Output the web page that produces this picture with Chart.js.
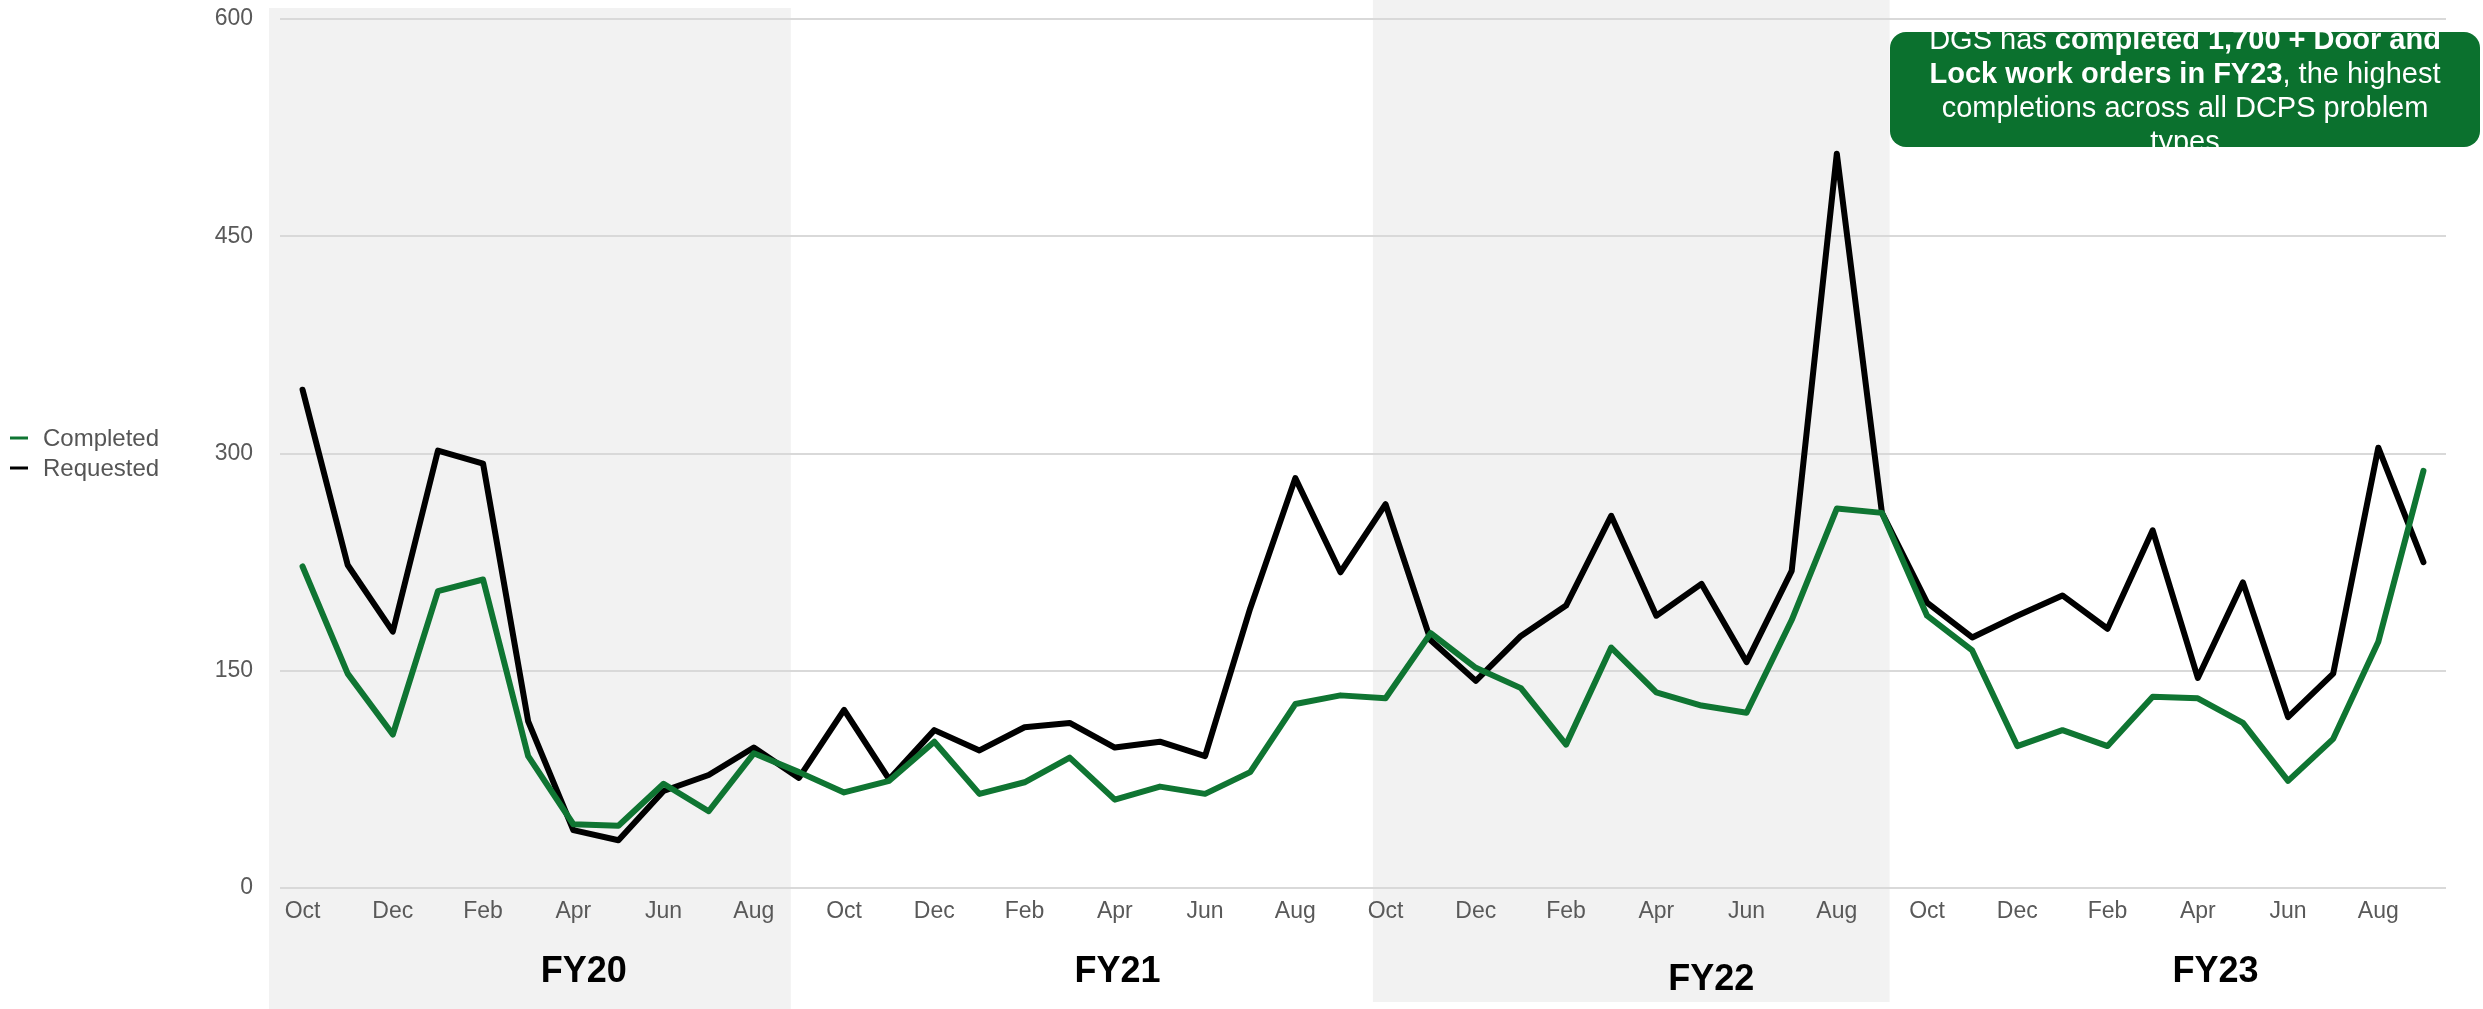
<!DOCTYPE html>
<html>
<head>
<meta charset="utf-8">
<script src="https://cdn.jsdelivr.net/npm/chart.js"></script>
<style>
  html, body { margin: 0; padding: 0; background: #fff; }
  #wrap { width: 2483px; height: 1009px; }
</style>
</head>
<body>
<div id="wrap"><canvas id="chart" width="2483" height="1009"></canvas></div>
<script>
// months Oct FY20 .. Sep FY23
var months = ['Oct', 'Nov', 'Dec', 'Jan', 'Feb', 'Mar', 'Apr', 'May', 'Jun', 'Jul', 'Aug', 'Sep'];
var labels = [].concat(months, months, months, months);

var completed = [
    222, 148, 106, 205, 213, 91, 44, 43, 72, 53, 93, 80,
    66, 74, 101, 65, 73, 90, 61, 70, 65, 80, 127, 133,
    131, 176, 152, 138, 99, 166, 135, 126, 121, 185, 262, 259,
    188, 164, 98, 109, 98, 132, 131, 114, 74, 103, 170, 288
];
var requested = [
    344, 223, 177, 302, 293, 115, 40, 33, 67, 78, 97, 76,
    123, 75, 109, 95, 111, 114, 97, 101, 91, 193, 283, 218,
    265, 171, 143, 174, 195, 257, 188, 210, 156, 219, 507, 259,
    197, 173, 188, 202, 179, 247, 145, 211, 118, 148, 304, 225
];

var yTicks = [0, 150, 300, 450, 600];

// fiscal year captions, placed at a (fractional) month index
var fyNames = ['FY20', 'FY21', 'FY22', 'FY23'];
var fyPos = [6.23, 18.06, 31.22, 42.39];

// shaded year bands, in month-index units
var bandFrom = [-0.745, 23.72];
var bandTo = [10.82, 35.17];

var GREEN = '#0f7532';
var GREY_TEXT = '#595959';
var FONT = '"Liberation Sans", Arial, sans-serif';

var bandsPlugin = {
    id: 'bands',
    beforeDraw: function (chart) {
        var ctx = chart.ctx;
        var x = chart.scales.x;
        ctx.save();
        ctx.fillStyle = '#ffffff';
        ctx.fillRect(0, 0, chart.width, chart.height);
        ctx.fillStyle = '#f2f2f2';
        var tops = [8, 0];
        var bottoms = [chart.height, chart.height - 7];
        for (var i = 0; i < bandFrom.length; i++) {
            var x1 = x.getPixelForValue(bandFrom[i]);
            var x2 = x.getPixelForValue(bandTo[i]);
            ctx.fillRect(x1, tops[i], x2 - x1, bottoms[i] - tops[i]);
        }
        ctx.restore();
    }
};

var extrasPlugin = {
    id: 'extras',
    afterDraw: function (chart) {
        var ctx = chart.ctx;
        var x = chart.scales.x;
        var area = chart.chartArea;
        ctx.save();

        // fiscal year captions
        ctx.font = 'bold 36px ' + FONT;
        ctx.fillStyle = '#000';
        ctx.textAlign = 'center';
        ctx.textBaseline = 'middle';
        fyNames.forEach(function (name, i) {
            var dy = name === 'FY22' ? 92 : 84;
            ctx.fillText(name, x.getPixelForValue(fyPos[i]), area.bottom + dy);
        });

        // legend
        var items = [
            {text: 'Completed', color: GREEN},
            {text: 'Requested', color: '#000'}
        ];
        ctx.font = '24px ' + FONT;
        ctx.textAlign = 'left';
        items.forEach(function (it, i) {
            var y = 438 + i * 30;
            ctx.strokeStyle = it.color;
            ctx.lineWidth = 3;
            ctx.beginPath();
            ctx.moveTo(10, y);
            ctx.lineTo(28, y);
            ctx.stroke();
            ctx.fillStyle = '#555';
            ctx.fillText(it.text, 43, y + 1);
        });

        // callout box
        var bx = 1890, by = 32, bw = 590, bh = 115, r = 16;
        ctx.beginPath();
        ctx.roundRect(bx, by, bw, bh, r);
        ctx.fillStyle = '#0b712e';
        ctx.fill();
        ctx.clip();

        var lines = [
            [['DGS has ', false], ['completed 1,700 + Door and', true]],
            [['Lock work orders in FY23', true], [', the highest', false]],
            [['completions across all DCPS problem', false]],
            [['types', false]]
        ];
        var cx = bx + bw / 2;
        ctx.fillStyle = '#fff';
        ctx.textBaseline = 'alphabetic';
        ctx.textAlign = 'left';
        lines.forEach(function (runs, i) {
            var total = 0;
            runs.forEach(function (run) {
                ctx.font = (run[1] ? 'bold ' : '') + '29px ' + FONT;
                total += ctx.measureText(run[0]).width;
            });
            var tx = cx - total / 2;
            var ty = by + 17 + i * 34;
            runs.forEach(function (run) {
                ctx.font = (run[1] ? 'bold ' : '') + '29px ' + FONT;
                ctx.fillText(run[0], tx, ty);
                tx += ctx.measureText(run[0]).width;
            });
        });

        ctx.restore();
    }
};

new Chart(document.getElementById('chart'), {
    type: 'line',
    data: {
        labels: labels,
        datasets: [{
            label: 'Completed',
            data: completed,
            borderColor: GREEN,
            borderWidth: 6,
            pointRadius: 0,
            borderJoinStyle: 'round',
            borderCapStyle: 'round',
            tension: 0
        }, {
            label: 'Requested',
            data: requested,
            borderColor: '#000',
            borderWidth: 6,
            pointRadius: 0,
            borderJoinStyle: 'round',
            borderCapStyle: 'round',
            tension: 0
        }]
    },
    options: {
        responsive: false,
        animation: false,
        devicePixelRatio: 1,
        layout: {
            padding: {left: 0, top: 19, right: 37, bottom: 0}
        },
        plugins: {
            legend: {display: false},
            tooltip: {enabled: false}
        },
        scales: {
            x: {
                offset: true,
                grid: {display: false, drawTicks: false},
                border: {display: false},
                ticks: {
                    autoSkip: false,
                    maxRotation: 0,
                    minRotation: 0,
                    padding: 10,
                    color: GREY_TEXT,
                    font: {family: FONT, size: 23},
                    callback: function (value, index) {
                        return index % 2 === 0 ? labels[index] : '';
                    }
                },
                afterFit: function (scale) {
                    scale.height = 121;
                    scale.paddingLeft = 0;
                    scale.paddingRight = 0;
                }
            },
            y: {
                min: 0,
                max: 600,
                grid: {color: '#d9d9d9', lineWidth: 2, drawTicks: false},
                border: {display: false},
                afterBuildTicks: function (scale) {
                    scale.ticks = yTicks.map(function (v) { return {value: v}; });
                },
                ticks: {
                    padding: 27,
                    color: GREY_TEXT,
                    font: {family: FONT, size: 23}
                },
                afterFit: function (scale) {
                    scale.width = 280;
                    scale.paddingTop = 0;
                    scale.paddingBottom = 0;
                }
            }
        }
    },
    plugins: [bandsPlugin, extrasPlugin]
});
</script>
</body>
</html>
